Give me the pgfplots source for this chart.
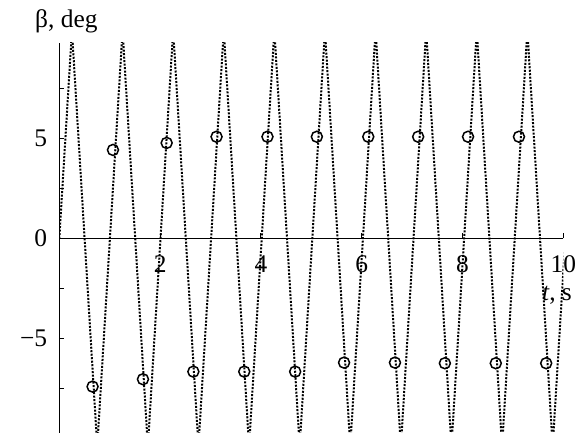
\documentclass[border=0pt]{standalone}
\usepackage{fontspec}
\setmainfont{Liberation Serif}
\usepackage{pgfplots}
\pgfplotsset{compat=1.18}
\begin{document}
\begin{tikzpicture}[x=1bp,y=1bp]
\path[use as bounding box] (0,0) rectangle (577,437);
\begin{axis}[
 at={(59.3bp,4bp)}, anchor=south west,
 scale only axis, width=504bp, height=390bp,
 xmin=0, xmax=10, ymin=-9.73, ymax=9.78,
 axis x line*=middle, axis y line*=left,
 axis line style={line width=1.3bp, -},
 xtick={2,4,6,8,10}, xticklabels={2,4,6,8,10},
 ytick={-7.5,-5,-2.5,0,2.5,5,7.5}, yticklabels={,−5,,0,,5,},
 hide obscured x ticks=false, hide obscured y ticks=false,
 tick align=inside, major tick length=5bp,
 tick style={line width=1bp, black},
 tick label style={font=\fontsize{25.5}{30}\selectfont, inner sep=0pt},
 xticklabel style={anchor=center, yshift=-25.5bp},
 yticklabel style={anchor=east, xshift=-12bp},
 clip=true,
]
\addplot[black, line width=2bp, dash pattern=on 2bp off 1.5bp, line cap=butt] coordinates {
(0,0) (0.251,10.4) (0.753,-10.4)
(1.255,10.4) (1.757,-10.4)
(2.259,10.4) (2.761,-10.4)
(3.263,10.4) (3.765,-10.4)
(4.267,10.4) (4.769,-10.4)
(5.271,10.4) (5.773,-10.4)
(6.275,10.4) (6.777,-10.4)
(7.279,10.4) (7.781,-10.4)
(8.283,10.4) (8.785,-10.4)
(9.287,10.4) (9.789,-10.4)
(10.291,10.4)
};
\addplot[only marks, mark=o, mark size=5.5bp, mark options={line width=1.5bp}, black] coordinates {
(1.065,4.43) (2.13,4.78) (3.12,5.09) (4.13,5.09) (5.11,5.09) (6.13,5.09) (7.12,5.09) (8.11,5.09) (9.12,5.09)
(0.66,-7.41) (1.66,-7.04) (2.66,-6.66) (3.67,-6.66) (4.68,-6.66) (5.65,-6.21) (6.66,-6.21) (7.65,-6.24) (8.66,-6.24) (9.66,-6.24)
};
\end{axis}
\node[anchor=base west, inner sep=0pt, font=\fontsize{25.5}{30}\selectfont] at (35,409) {β, deg};
\node[anchor=base west, inner sep=0pt, font=\fontsize{25.5}{30}\selectfont] at (542,136) {\textit{t}, s};
\end{tikzpicture}
\end{document}
